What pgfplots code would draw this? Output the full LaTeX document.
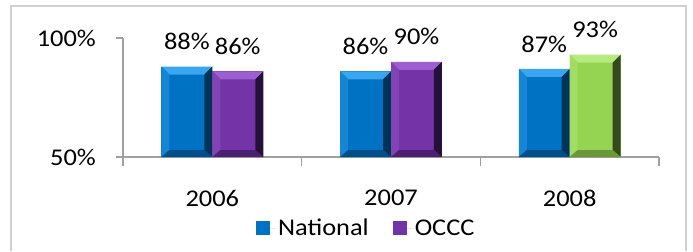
\documentclass[border=0pt]{standalone}
\usepackage{fontspec}
\setmainfont{Carlito}[FakeStretch=1.1]
\usepackage{pgfplots}
\pgfplotsset{compat=1.18}
\definecolor{axgray}{HTML}{A0A0A0}
\definecolor{framegray}{HTML}{D0D0D0}
% National (blue)
\definecolor{bFace}{HTML}{0072C4}
\definecolor{bTop}{HTML}{3AA6F0}
\definecolor{bLeft}{HTML}{1585D6}
\definecolor{bRight}{HTML}{003358}
\definecolor{bBot}{HTML}{004F8A}
% OCCC (purple)
\definecolor{pFace}{HTML}{7433A6}
\definecolor{pTop}{HTML}{9C5ED0}
\definecolor{pLeft}{HTML}{8244B4}
\definecolor{pRight}{HTML}{25103A}
\definecolor{pBot}{HTML}{4C2070}
% OCCC 2008 (green)
\definecolor{gFace}{HTML}{94D452}
\definecolor{gTop}{HTML}{B6EA7E}
\definecolor{gLeft}{HTML}{A2DC64}
\definecolor{gRight}{HTML}{34491C}
\definecolor{gBot}{HTML}{6A9838}
\tikzset{
  nopp/.style={path picture={}},
  bevel/.style n args={5}{fill=#1, draw=none,
    path picture={
      \pgftransformreset
      \path[nopp] (path picture bounding box.north west) coordinate[nopp] (bNW)
            (path picture bounding box.north east) coordinate[nopp] (bNE)
            (path picture bounding box.south west) coordinate[nopp] (bSW)
            (path picture bounding box.south east) coordinate[nopp] (bSE);
      \fill[#2, nopp] (bNW) -- (bNE) -- ([shift={(-8bp,-8bp)}]bNE) -- ([shift={(8bp,-8bp)}]bNW) -- cycle;
      \fill[#3, nopp] (bNW) -- ([shift={(8bp,-8bp)}]bNW) -- ([shift={(8bp,7bp)}]bSW) -- (bSW) -- cycle;
      \fill[#4, nopp] (bNE) -- ([shift={(-8bp,-8bp)}]bNE) -- ([shift={(-8bp,7bp)}]bSE) -- (bSE) -- cycle;
      \fill[#5, nopp] (bSW) -- ([shift={(8bp,7bp)}]bSW) -- ([shift={(-8bp,7bp)}]bSE) -- (bSE) -- cycle;
    }},
  natbar/.style={bevel={bFace}{bTop}{bLeft}{bRight}{bBot}},
  occbar/.style={bevel={pFace}{pTop}{pLeft}{pRight}{pBot}},
  grnbar/.style={bevel={gFace}{gTop}{gLeft}{gRight}{gBot}},
}
\begin{document}
\begin{tikzpicture}
\begin{axis}[
  scale only axis,
  width=536bp, height=119bp,
  xmin=-0.5, xmax=2.5,
  ymin=50, ymax=100,
  ybar, bar width=0.285,
  font=\fontsize{24bp}{28bp}\selectfont,
  axis x line*=bottom, axis y line*=left,
  axis line style={axgray, line width=1.3bp},
  xtick={0,1,2}, xticklabels={2006,2007,2008},
  minor xtick={-0.5,0.5,1.5,2.5},
  major x tick style={draw=none},
  minor x tick style={axgray, line width=1.3bp},
  minor tick length=9bp,
  ytick={50,100}, yticklabels={50\%,100\%},
  major y tick style={axgray, line width=1.3bp},
  major tick length=7bp,
  tick align=outside,
  xticklabel style={anchor=center, yshift=-34bp},
  yticklabel style={anchor=east, inner sep=0pt, xshift=-20bp},
  nodes near coords={\pgfmathprintnumber[fixed,precision=0,assume math mode=true]{\pgfplotspointmeta}\%},
  every node near coord/.append style={anchor=center, yshift=25bp, text=black, nopp, fill=none,
    font=\fontsize{24bp}{28bp}\selectfont},
  legend columns=2,
  legend style={draw=none, fill=none, inner sep=0pt, at={(0.248,-0.597)}, anchor=west,
    font=\fontsize{24bp}{28bp}\selectfont,
    /tikz/every even column/.append style={column sep=22bp}},
  legend image code/.code={\fill[#1, nopp] (0bp,-7bp) rectangle (14bp,7bp); \path[nopp] (0bp,0bp) -- (20bp,0bp);},
  clip=false,
]
\addplot[natbar, bar shift=-0.1425] coordinates {(0,88)};
\addlegendentry{National}
\addplot[occbar, bar shift=0.1425] coordinates {(0,86)};
\addlegendentry{OCCC}
\addplot[natbar, bar shift=-0.1425, forget plot] coordinates {(1,86)};
\addplot[occbar, bar shift=0.1425, forget plot] coordinates {(1,90)};
\addplot[natbar, bar shift=-0.1425, forget plot] coordinates {(2,87)};
\addplot[grnbar, bar shift=0.1425, forget plot] coordinates {(2,93)};
\end{axis}
\draw[framegray, line width=1.5bp] (-112bp,-94bp) -- (-112bp,151bp) -- (563bp,151bp) -- (563bp,-94bp);
\path[use as bounding box] (-123bp,-94bp) rectangle (570bp,157bp);
\end{tikzpicture}
\end{document}
